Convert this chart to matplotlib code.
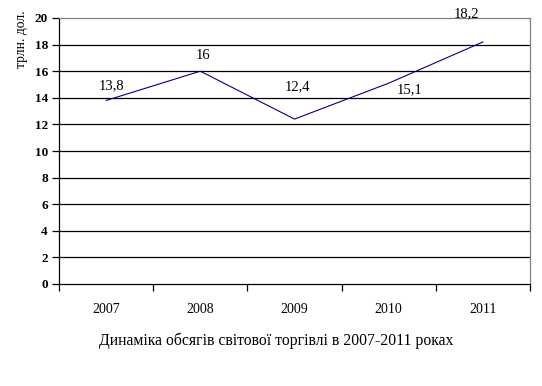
import matplotlib.pyplot as plt

plt.rcParams['font.family'] = ['Liberation Serif', 'DejaVu Serif']

# дані
years = ["2007", "2008", "2009", "2010", "2011"]
values = [13.8, 16, 12.4, 15.1, 18.2]
labels = ["13,8", "16", "12,4", "15,1", "18,2"]
# зсув підписів (в пунктах)
offsets = [(4, 10.5), (2, 11.5), (2, 23), (15, -4.5), (-11.5, 20)]

fig = plt.figure(figsize=(5.42, 3.86), dpi=100)
ax = fig.add_axes([59 / 542, 102 / 386, 471 / 542, 266 / 386])

x = list(range(len(years)))
ax.plot(x, values, color="#000080", linewidth=0.8)

for xi, v, lab, off in zip(x, values, labels, offsets):
    ax.annotate(lab, (xi, v), xytext=off, textcoords="offset points",
                ha="center", va="center", fontsize=10.5)

ax.set_xlim(-0.5, len(years) - 0.5)
ax.set_ylim(0, 20)
ax.set_yticks(range(0, 21, 2))
ax.set_yticklabels([str(t) for t in range(0, 21, 2)], fontsize=9.5, fontweight="bold")
for t in range(2, 20, 2):
    ax.axhline(t, color="black", linewidth=0.9, zorder=0)

ax.set_xticks(x)
ax.set_xticklabels(years, fontsize=10)
ax.set_xticks([i - 0.5 for i in range(len(years) + 1)], minor=True)
ax.tick_params(axis="x", which="major", length=0, pad=14)
ax.tick_params(axis="x", which="minor", length=5, direction="out", width=0.9)
ax.tick_params(axis="y", length=5, direction="out", width=0.9, pad=3)

ax.spines["left"].set_color("black")
ax.spines["bottom"].set_color("black")
ax.spines["top"].set_color("#808080")
ax.spines["right"].set_color("#808080")
for s in ax.spines.values():
    s.set_linewidth(0.9)

fig.text(22 / 542, 1 - 39 / 386, "трлн. дол.", rotation=90, ha="center", va="center", fontsize=9.8)
fig.text(276 / 542, 1 - 341 / 386, "Динаміка обсягів світової торгівлі в 2007-2011 роках",
         ha="center", va="center", fontsize=11.3)

plt.savefig("out.png", dpi=100)
